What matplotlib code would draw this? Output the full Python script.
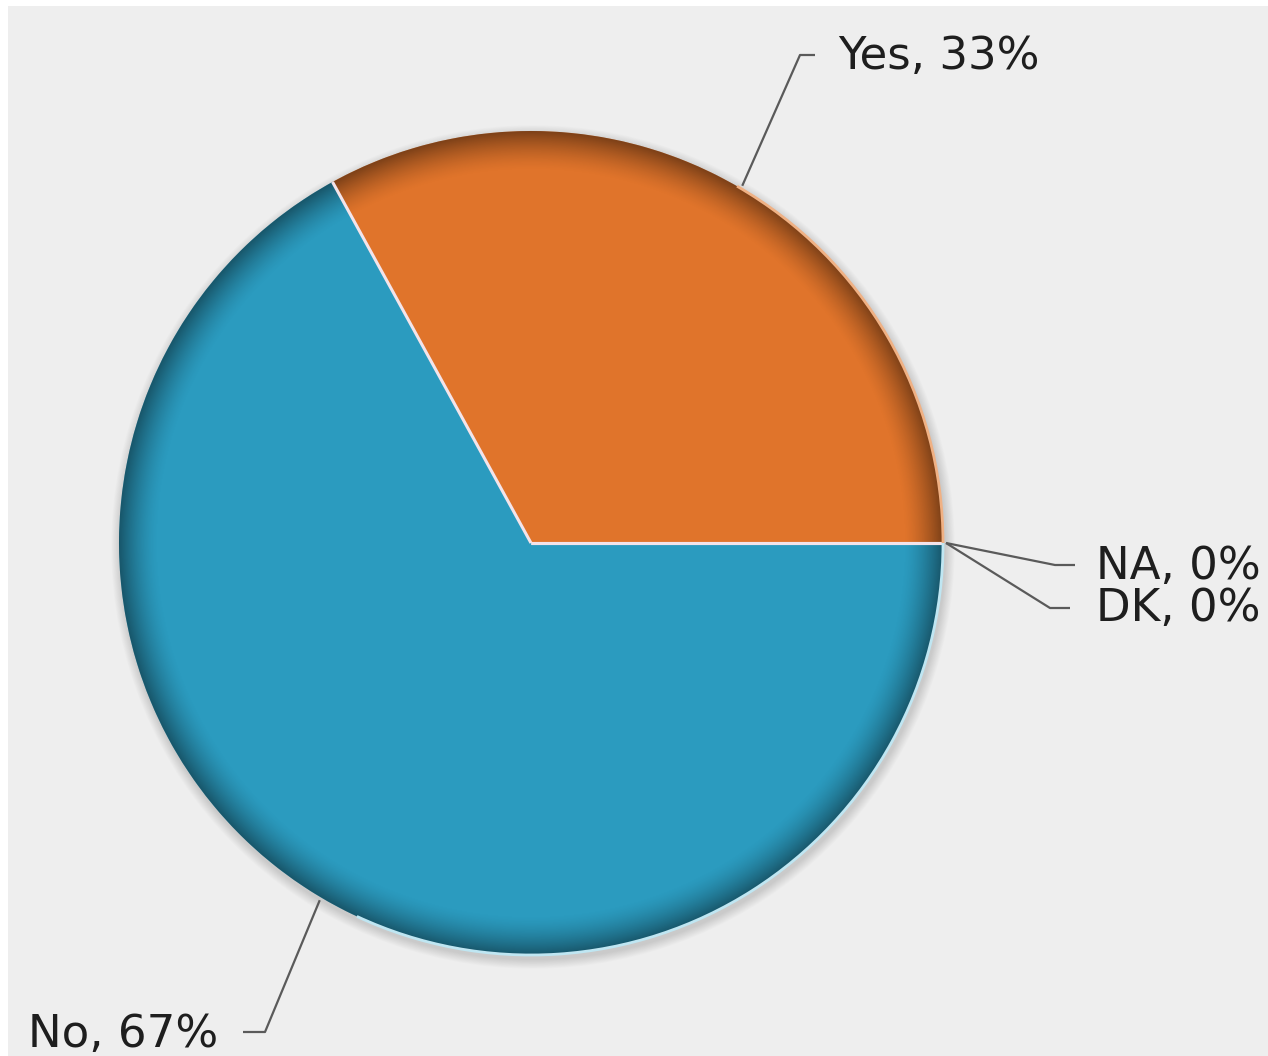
import numpy as np
import matplotlib
matplotlib.use("Agg")
from matplotlib import pyplot as plt
from matplotlib.patches import Circle, Arc, Rectangle

# survey answers
labels = ["Yes", "No", "NA", "DK"]
shares = [33, 67, 0, 0]
colors = ["#e0742b", "#2b9bbf", "#9a9a9a", "#7a7a7a"]

# where each label sits (pixels, y measured from the top) and the elbow of its leader
label_pos = [(838, 57), (28, 1035), (1096, 567), (1096, 609)]
elbow_pos = [(800, 55), (265, 1032), (1055, 565), (1050, 608)]
elbow_end = [(815, 55), (243, 1032), (1075, 565), (1070, 608)]

W, H = 1268, 1056
cx, cy, R = 531, H - 543, 412

fig = plt.figure(figsize=(W / 100, H / 100), dpi=100)
fig.patch.set_facecolor("#eeeeee")
ax = fig.add_axes([0, 0, 1, 1])

# soft drop shadow under the pie
for k in range(12):
    ax.add_patch(Circle((cx + 2, cy - 4), R + 1 + k * 0.8, facecolor="#000000",
                        edgecolor="none", alpha=0.012, zorder=1))

wedges, _ = ax.pie(shares, colors=colors, startangle=0, counterclock=True,
                   center=(cx, cy), radius=R, frame=True,
                   wedgeprops=dict(linewidth=0, zorder=3))
ax.set_xlim(0, W)
ax.set_ylim(0, H)
ax.set_aspect("equal")
ax.axis("off")

# darkening toward the rim
n = 700
xs = np.linspace(-1, 1, n)
xx, yy = np.meshgrid(xs, xs)
d = np.sqrt(xx ** 2 + yy ** 2)
shade = np.zeros((n, n, 4))
shade[..., 3] = 0.44 * np.clip((d - 0.905) / 0.095, 0, 1) ** 1.5
img = ax.imshow(shade, extent=[cx - R, cx + R, cy - R, cy + R], origin="lower",
                zorder=4, interpolation="bilinear")
img.set_clip_path(Circle((cx, cy), R, transform=ax.transData))

# pale separators between slices
for w in wedges:
    a = np.deg2rad(w.theta1)
    ax.plot([cx, cx + R * np.cos(a)], [cy, cy + R * np.sin(a)], color="#f3e4ea",
            linewidth=2.2, zorder=5, solid_capstyle="butt")

# light highlight on the lower right rim of each slice
lights = ["#f0b184", "#bfe6f2"]
for w, lc in zip(wedges[:2], lights):
    t1, t2 = w.theta1, w.theta2
    lo, hi = max(t1, -115), min(t2, 60)
    if t2 > 180:
        lo, hi = max(t1 - 360, -115), min(t2 - 360, 60)
    if hi > lo:
        ax.add_patch(Arc((cx, cy), 2 * R, 2 * R, theta1=lo, theta2=hi,
                         color=lc, linewidth=2.0, zorder=5))

# slice labels with leader lines
for w, lab, val, lp, ep, ee in zip(wedges, labels, shares, label_pos, elbow_pos, elbow_end):
    mid = np.deg2rad((w.theta1 + w.theta2) / 2)
    x0 = cx + (R + 3) * np.cos(mid)
    y0 = cy + (R + 3) * np.sin(mid)
    ax.plot([x0, ep[0], ee[0]], [y0, H - ep[1], H - ee[1]], color="#5a5a5a",
            linewidth=1.6, zorder=6, solid_capstyle="butt")
    ax.text(lp[0], H - lp[1], f"{lab}, {val}%", fontsize=32.5, color="#1e1e1e",
            ha="left", va="center", zorder=7)

# thin white margin along the top and left
fig.patches.append(Rectangle((0, 1 - 6 / H), 1, 6 / H, transform=fig.transFigure,
                             facecolor="white", edgecolor="none", zorder=10))
fig.patches.append(Rectangle((0, 0), 8 / W, 1, transform=fig.transFigure,
                             facecolor="white", edgecolor="none", zorder=10))

fig.savefig("out.png", dpi=100, facecolor=fig.get_facecolor())
